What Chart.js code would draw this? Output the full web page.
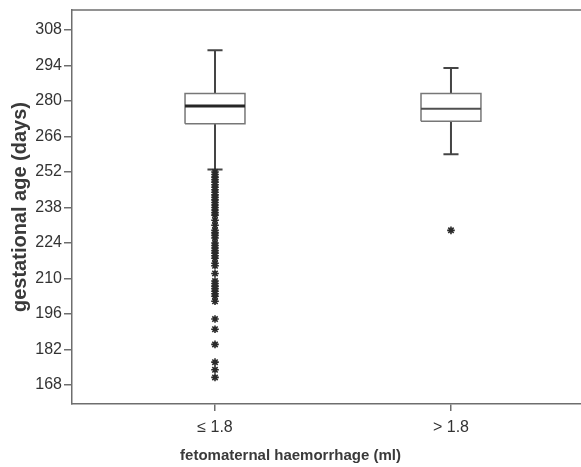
<!DOCTYPE html>
<html>
<head>
<meta charset="utf-8">
<script src="https://cdn.jsdelivr.net/npm/chart.js@4/dist/chart.umd.min.js"></script>
<style>
  html,body{margin:0;padding:0;background:#fff;overflow:hidden;}
  #wrap{width:581px;height:467px;position:relative;}
  #wrap canvas{display:block;}
</style>
</head>
<body>
<div id="wrap"><canvas id="c"></canvas></div>
<script>
  // Data
  const categories   = ['≤ 1.8', '> 1.8'];
  const lowerWhisker = [253, 259];
  const q1           = [271, 272];
  const median       = [278, 277];
  const q3           = [283, 283];
  const upperWhisker = [300, 293];
  const outliers = [
    [252,251,250,249,248,247,246,245,244,243,242,241,240,239,238,237,236,235,
     233,231,229,228,227,226,224,223,222,221,220,219,218,216,215,212,
     209,208,207,206,205,204,203,201,194,190,184,177,174,171],
    [229]
  ];
  const yTicks = [168,182,196,210,224,238,252,266,280,294,308];

  // Drawing constants
  const BOX_HALF = 0.127, CAP_HALF = 0.032;
  const INK = '#333', AXIS = '#6e6e6e';
  const FONT = '"Liberation Sans", Arial, sans-serif';
  const GAP = i => ({x: i+1, y: null});

  const boxPts = [], med1 = [], med2 = [], whiskPts = [], outPts = [];
  categories.forEach((c,i)=>{
    const x = i+1;
    boxPts.push({x:x-BOX_HALF,y:q1[i]},{x:x+BOX_HALF,y:q1[i]},{x:x+BOX_HALF,y:q3[i]},
                {x:x-BOX_HALF,y:q3[i]},{x:x-BOX_HALF,y:q1[i]},GAP(i));
    (i===0 ? med1 : med2).push({x:x-BOX_HALF,y:median[i]},{x:x+BOX_HALF,y:median[i]});
    whiskPts.push({x,y:q3[i]},{x,y:upperWhisker[i]},GAP(i),
                  {x:x-CAP_HALF,y:upperWhisker[i]},{x:x+CAP_HALF,y:upperWhisker[i]},GAP(i),
                  {x,y:q1[i]},{x,y:lowerWhisker[i]},GAP(i),
                  {x:x-CAP_HALF,y:lowerWhisker[i]},{x:x+CAP_HALF,y:lowerWhisker[i]},GAP(i));
    outliers[i].forEach(v=>outPts.push({x,y:v}));
  });

  // Top frame line
  const frameTop = {
    id:'frameTop',
    afterDraw(chart){
      const {ctx, chartArea:a} = chart;
      ctx.save();
      ctx.strokeStyle = AXIS; ctx.lineWidth = 1.5;
      ctx.beginPath(); ctx.moveTo(a.left, a.top); ctx.lineTo(a.right, a.top); ctx.stroke();
      ctx.restore();
    }
  };

  const lineDs = (data, color, width) => ({
    type:'line', data, borderColor:color, borderWidth:width, pointRadius:0,
    spanGaps:false, fill:false, tension:0
  });

  new Chart(document.getElementById('c'), {
    type:'scatter',
    data:{
      datasets:[
        {data:outPts, showLine:false, pointStyle:'star', pointRadius:3.8,
         borderColor:'#2a2a2a', backgroundColor:'#2a2a2a', pointBorderWidth:1.6},
        lineDs(med1, '#262626', 3),
        lineDs(med2, '#505050', 2),
        lineDs(boxPts, '#777', 1.5),
        lineDs(whiskPts, '#454545', 2)
      ]
    },
    plugins:[frameTop],
    options:{
      responsive:true, maintainAspectRatio:false, animation:false,
      layout:{autoPadding:false, padding:{top:10, right:0, left:0, bottom:0}},
      plugins:{
        legend:{display:false}, tooltip:{enabled:false},
        title:{display:true, position:'bottom', text:'fetomaternal haemorrhage (ml)',
               color:'#3a3a3a', padding:{top:0, bottom:2},
               font:{family:FONT, size:15, weight:'bold'}}
      },
      scales:{
        x:{
          type:'linear', min:0.394, max:2.551,
          afterBuildTicks: s => { s.ticks = categories.map((c,i)=>({value:i+1})); },
          afterFit: s => { s.height = 43; },
          ticks:{callback:v=>categories[v-1] ?? '', color:INK, padding:7,
                 font:{family:FONT, size:16}},
          grid:{drawOnChartArea:false, drawTicks:true, tickLength:7, color:AXIS, lineWidth:1.5},
          border:{color:AXIS, width:1.5}
        },
        y:{
          min:160.5, max:315.9,
          afterBuildTicks: s => { s.ticks = yTicks.map(v=>({value:v})); },
          afterFit: s => { s.width = 72; },
          ticks:{color:INK, padding:2, font:{family:FONT, size:16, lineHeight:1}},
          grid:{drawOnChartArea:false, drawTicks:true, tickLength:8, color:AXIS, lineWidth:1.5},
          border:{color:AXIS, width:1.5},
          title:{display:true, text:'gestational age (days)', color:'#3a3a3a',
                 padding:{top:8, bottom:0},
                 font:{family:FONT, size:20, weight:'bold'}}
        }
      }
    }
  });
</script>
</body>
</html>
